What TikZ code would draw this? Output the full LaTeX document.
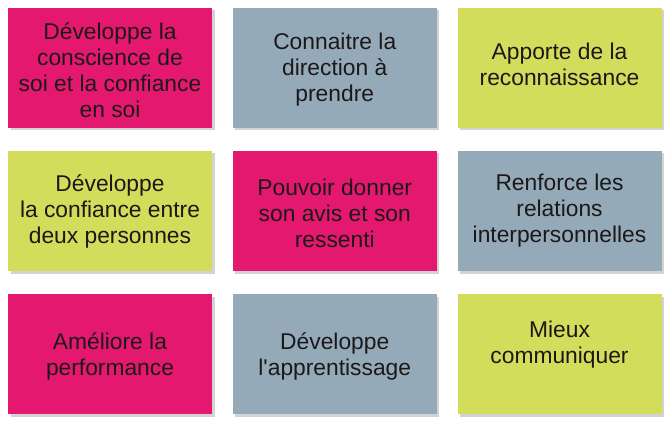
\documentclass[tikz,border=0pt]{standalone}
\usepackage{fontspec}
\setmainfont{Liberation Sans}
\usetikzlibrary{shadows}
\definecolor{cardpink}{RGB}{229,24,111}
\definecolor{cardgrey}{RGB}{149,170,184}
\definecolor{cardgreen}{RGB}{212,220,91}
\definecolor{cardink}{RGB}{28,24,26}
\tikzset{
  card/.style={rectangle, minimum width=204pt, minimum height=120pt,
    inner sep=0pt, drop shadow={shadow xshift=2.5pt, shadow yshift=-2.5pt, opacity=0.35}},
  cardtext/.style={align=center, text=cardink,
    font=\fontsize{22.8pt}{26pt}\selectfont}
}
\begin{document}
\begin{tikzpicture}[x=1pt, y=-1pt]
    \useasboundingbox (0,0) rectangle (671,422);
    \foreach [count=\i from 0] \col/\dy/\txt in {
      cardpink/-2/{Développe la\\conscience de\\soi et la confiance\\en soi},
      cardgrey/-2/{Connaitre la\\direction à\\prendre},
      cardgreen/4/{Apporte de la\\reconnaissance},
      cardgreen/0/{Développe\\la confiance entre\\deux personnes},
      cardpink/-2/{Pouvoir donner\\son avis et son\\ressenti},
      cardgrey/0/{Renforce les\\relations\\interpersonnelles},
      cardpink/-2/{Améliore la\\performance},
      cardgrey/-2/{Développe\\l\textquotesingle apprentissage},
      cardgreen/9/{Mieux\\communiquer}} {
      \pgfmathtruncatemacro{\c}{mod(\i,3)}
      \pgfmathtruncatemacro{\r}{div(\i,3)}
      \node[card, fill=\col] (card\i) at (110+224.75*\c, 68+143*\r) {};
      \node[cardtext] (text\i) at ([yshift=\dy pt]card\i.center) {\txt};
    }
  \end{tikzpicture}
\end{document}
